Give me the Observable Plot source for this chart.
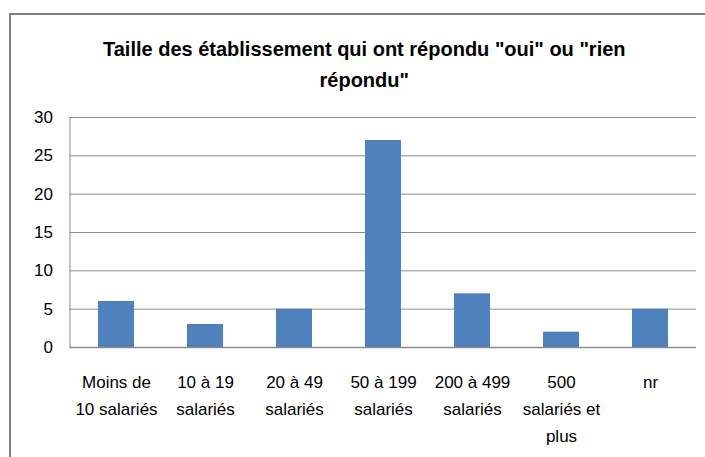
<!DOCTYPE html>
<html>
<head>
<meta charset="utf-8">
<script src="https://cdn.jsdelivr.net/npm/d3@7"></script>
<script src="https://cdn.jsdelivr.net/npm/@observablehq/plot@0.6"></script>
<style>
  html, body { margin: 0; padding: 0; background: #fff; }
  #wrap { position: relative; width: 705px; height: 457px; overflow: hidden; }
  #border { position: absolute; left: 9px; top: 13px; width: 720px; height: 470px;
            border-left: 2px solid #808080; border-top: 2px solid #808080; pointer-events: none; }
</style>
</head>
<body>
<div id="wrap"><div id="border"></div></div>
<script>
const title = "Taille des établissement qui ont répondu \"oui\" ou \"rien\nrépondu\"";
const categories = ["Moins de 10 salariés", "10 à 19 salariés", "20 à 49 salariés", "50 à 199 salariés", "200 à 499 salariés", "500 salariés et plus", "nr"];
const tickLabels = ["Moins de\n10 salariés", "10 à 19\nsalariés", "20 à 49\nsalariés", "50 à 199\nsalariés", "200 à 499\nsalariés", "500\nsalariés et\nplus", "nr"];
const values = [6, 3, 5, 27, 7, 2, 5];
const yTicks = [0, 5, 10, 15, 20, 25, 30];

const data = categories.map((c, i) => ({category: c, value: values[i], label: tickLabels[i]}));

const font = "'Liberation Sans', Arial, sans-serif";

const chart = Plot.plot({
  width: 705,
  height: 457,
  marginLeft: 69.5,
  marginRight: 9,
  marginTop: 117,
  marginBottom: 110,
  style: {fontFamily: font, background: "transparent", color: "#000"},
  x: {domain: categories, paddingInner: 0.6, paddingOuter: 0.3, axis: null},
  y: {domain: [0, 30], axis: null},
  marks: [
    Plot.ruleY(yTicks.filter(d => d > 0), {stroke: "#8c8c8c", strokeWidth: 1}),
    Plot.barY(data, {x: "category", y: "value", fill: "#4F81BD"}),
    Plot.ruleY([0], {stroke: "#8c8c8c", strokeWidth: 1.5}),
    Plot.frame({anchor: "left", stroke: "#8c8c8c", strokeWidth: 1}),
    Plot.axisY({ticks: yTicks, label: null, tickSize: 0, tickPadding: 17, fontSize: 17, tickFormat: d => String(d), fill: "#000"}),
    Plot.text(data, {x: "category", text: "label", frameAnchor: "bottom", lineAnchor: "top", dy: 21, lineHeight: 1.6, fontSize: 17, fill: "#000"}),
    Plot.text([title], {frameAnchor: "top", lineAnchor: "top", dx: -19, dy: -84, lineHeight: 1.55, fontSize: 20, fontWeight: "bold", fill: "#000"})
  ]
});
document.getElementById("wrap").prepend(chart);
</script>
</body>
</html>
